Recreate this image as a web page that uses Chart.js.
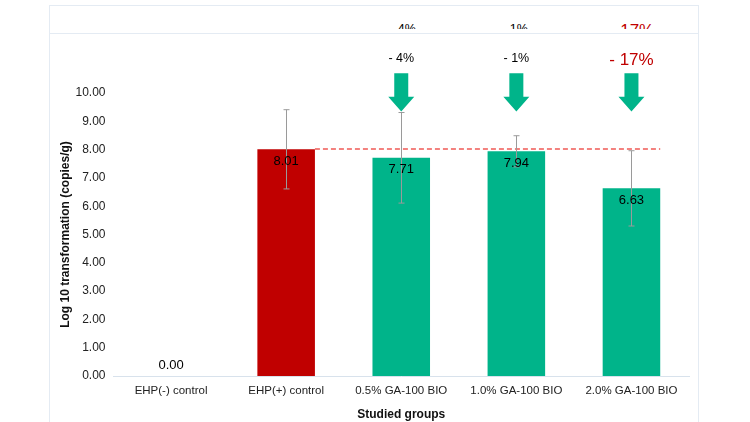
<!DOCTYPE html>
<html>
<head>
<meta charset="utf-8">
<script src="https://cdn.jsdelivr.net/npm/chart.js@4.4.1/dist/chart.umd.min.js"></script>
<style>
  body { margin: 0; background: #fff; width: 750px; height: 422px; overflow: hidden; position: relative; font-family: "Liberation Sans", Arial, sans-serif; }
  .panel { position: absolute; left: 49px; width: 650px; border: 1px solid #e4ebf3; box-sizing: border-box; background: #fff; }
  #topPanel { top: 5px; height: 29px; }
  #clip { position: absolute; left: 0; top: 0; width: 100%; height: 23px; overflow: hidden; }
  #clip span { position: absolute; top: 16px; font-size: 12.5px; transform: translateX(-50%); white-space: nowrap; }
  #mainPanel { top: 33px; height: 420px; }
  #wrap { position: absolute; left: 49px; top: 34px; width: 651px; height: 388px; }
</style>
</head>
<body>
<div class="panel" id="topPanel">
  <div id="clip">
    <span style="left:353px;color:#000">- 4%</span>
    <span style="left:465px;color:#000">- 1%</span>
    <span style="left:582px;color:#c00000;font-size:17px;top:15px">- 17%</span>
  </div>
</div>
<div class="panel" id="mainPanel"></div>
<div id="wrap"><canvas id="barChart"></canvas></div>
<script>
const groups = ['EHP(-) control', 'EHP(+) control', '0.5% GA-100 BIO', '1.0% GA-100 BIO', '2.0% GA-100 BIO'];
const means = [0, 8.01, 7.71, 7.94, 6.63];
const errors = [0, 1.4, 1.6, 0.55, 1.33];
const changes = ['', '', '- 4%', '- 1%', '- 17%'];
const barColors = ['#c00000', '#c00000', '#00b48a', '#00b48a', '#00b48a'];
const yTicks = [0, 1, 2, 3, 4, 5, 6, 7, 8, 9, 10];

const FONT = '"Liberation Sans", Arial, sans-serif';

// error bars, reference line, labels and arrows
const extras = {
  id: 'extras',
  afterDatasetsDraw(chart) {
    const ctx = chart.ctx;
    const y = chart.scales.y;
    const meta = chart.getDatasetMeta(0);
    ctx.save();

    // dashed control line
    const ctrl = meta.data[1];
    const last = meta.data[4];
    const ly = Math.round(y.getPixelForValue(means[1]));
    ctx.strokeStyle = '#f05a55';
    ctx.lineWidth = 1.5;
    ctx.setLineDash([5, 3]);
    ctx.beginPath();
    ctx.moveTo(ctrl.x + ctrl.width / 2, ly);
    ctx.lineTo(last.x + last.width / 2, ly);
    ctx.stroke();
    ctx.setLineDash([]);

    // error bars
    ctx.strokeStyle = '#9a9a9a';
    ctx.lineWidth = 1;
    means.forEach((m, i) => {
      if (!errors[i]) return;
      const cx = Math.round(meta.data[i].x) + 0.5;
      const top = y.getPixelForValue(m + errors[i]);
      const bot = y.getPixelForValue(m - errors[i]);
      ctx.beginPath();
      ctx.moveTo(cx, top); ctx.lineTo(cx, bot);
      ctx.moveTo(cx - 3, top); ctx.lineTo(cx + 3, top);
      ctx.moveTo(cx - 3, bot); ctx.lineTo(cx + 3, bot);
      ctx.stroke();
    });

    // value labels
    ctx.fillStyle = '#000';
    ctx.font = '13px ' + FONT;
    ctx.textAlign = 'center';
    ctx.textBaseline = 'middle';
    means.forEach((m, i) => {
      const py = y.getPixelForValue(m);
      ctx.fillText(m.toFixed(2), meta.data[i].x, m > 0 ? py + 12 : py - 11);
    });

    // arrows and percent changes
    changes.forEach((c, i) => {
      if (!c) return;
      const cx = meta.data[i].x;
      const t = y.getPixelForValue(10.7);
      const h = y.getPixelForValue(9.87);
      const tip = y.getPixelForValue(9.35);
      ctx.fillStyle = '#00b48a';
      ctx.beginPath();
      ctx.moveTo(cx - 7, t);
      ctx.lineTo(cx + 7, t);
      ctx.lineTo(cx + 7, h);
      ctx.lineTo(cx + 13, h);
      ctx.lineTo(cx, tip);
      ctx.lineTo(cx - 13, h);
      ctx.lineTo(cx - 7, h);
      ctx.closePath();
      ctx.fill();

      const red = i === 4;
      ctx.fillStyle = red ? '#c00000' : '#000';
      ctx.font = (red ? '17px ' : '12.5px ') + FONT;
      ctx.fillText(c, cx, y.getPixelForValue(red ? 11.15 : 11.22));
    });
    ctx.restore();
  }
};

new Chart(document.getElementById('barChart').getContext('2d'), {
  type: 'bar',
  data: {
    labels: groups,
    datasets: [{
      data: means,
      backgroundColor: barColors,
      barPercentage: 0.5,
      categoryPercentage: 1.0
    }]
  },
  options: {
    responsive: true,
    maintainAspectRatio: false,
    animation: false,
    layout: { padding: { top: 59, right: 11, left: 0, bottom: 0 } },
    plugins: {
      legend: { display: false },
      tooltip: { enabled: false }
    },
    scales: {
      x: {
        grid: { display: false, drawTicks: false },
        border: { color: '#d8e2ec' },
        ticks: { color: '#222', font: { family: FONT, size: 11.5 }, padding: 8, maxRotation: 0 },
        title: { display: true, text: 'Studied groups', color: '#111', font: { family: FONT, size: 12, weight: 'bold' }, padding: { top: 4, bottom: 0 } },
        afterFit(s) { s.height = 46; }
      },
      y: {
        min: 0,
        max: 10,
        afterBuildTicks(s) { s.ticks = yTicks.map(v => ({ value: v })); },
        grid: { display: false, drawTicks: false },
        border: { display: false },
        ticks: { color: '#222', font: { family: FONT, size: 12 }, padding: 8, callback: v => Number(v).toFixed(2) },
        title: { display: true, text: 'Log 10 transformation (copies/g)', color: '#111', font: { family: FONT, size: 12, weight: 'bold' }, padding: { top: 9, bottom: 4 } },
        afterFit(s) { s.width = 64.5; }
      }
    }
  },
  plugins: [extras]
});
</script>
</body>
</html>
